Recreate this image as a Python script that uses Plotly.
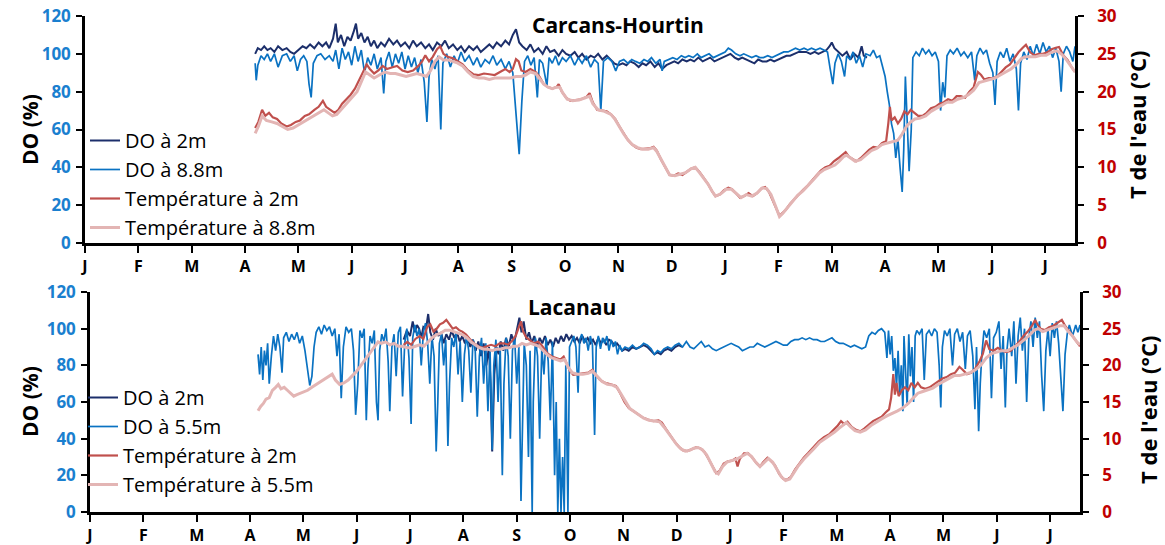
import plotly.graph_objects as go

# ---------------- DATA (time in months since Jan 1 of year 1) ----------------
month_labels = ["J", "F", "M", "A", "M", "J", "J", "A", "S", "O", "N", "D",
                "J", "F", "M", "A", "M", "J", "J"]

carcans_do_2m = [
    (3.19,100),(3.24,103),(3.30,102),(3.36,104),(3.42,102),(3.48,103),(3.55,101),(3.62,104),(3.70,102),
    (3.78,103),(3.85,101),(3.92,100),(4.00,102),(4.08,104),(4.15,103),(4.22,105),(4.30,103),(4.38,106),
    (4.45,104),(4.52,106),(4.58,103),(4.65,108),(4.70,116),(4.74,106),(4.80,110),(4.86,104),(4.92,109),
    (4.98,107),(5.04,112),(5.08,116),(5.12,108),(5.18,111),(5.24,106),(5.30,109),(5.36,104),(5.42,107),
    (5.48,103),(5.55,106),(5.62,104),(5.70,108),(5.78,105),(5.85,107),(5.92,104),(6.00,106),(6.08,103),
    (6.15,107),(6.22,104),(6.30,106),(6.38,103),(6.45,105),(6.52,102),(6.60,106),(6.68,104),(6.75,107),
    (6.82,103),(6.90,105),(6.98,102),(7.05,104),(7.12,101),(7.20,104),(7.28,102),(7.35,104),(7.42,101),
    (7.50,103),(7.58,105),(7.65,103),(7.72,106),(7.80,104),(7.88,107),(7.95,105),(8.02,110),(8.08,113),
    (8.14,106),(8.20,104),(8.28,102),(8.35,105),(8.42,101),(8.50,103),(8.58,100),(8.65,104),(8.72,101),
    (8.80,102),(8.88,99),(8.95,102),(9.02,100),(9.10,99),(9.18,101),(9.25,98),(9.32,100),(9.40,97),
    (9.48,99),(9.55,98),(9.62,100),(9.70,97),(9.78,99),(9.85,97),(9.92,95),(10.00,94),(10.08,95),
    (10.15,94),(10.22,96),(10.30,95),(10.38,93),(10.45,95),(10.52,94),(10.60,96),(10.68,93),(10.75,95),
    (10.82,92),(10.90,94),(10.98,95),(11.05,96),(11.12,95),(11.20,97),(11.28,96),(11.35,97),(11.42,96),
    (11.50,98),(11.58,96),(11.65,97),(11.72,98),(11.80,96),(11.88,97),(11.95,98),(12.02,99),(12.10,100),
    (12.18,98),(12.25,97),(12.32,98),(12.40,97),(12.48,96),(12.55,95),(12.62,97),(12.70,96),(12.78,96),
    (12.85,97),(12.92,96),(13.00,97),(13.08,98),(13.15,99),(13.22,99),(13.30,100),(13.38,101),(13.45,101),
    (13.52,101),(13.60,100),(13.68,101),(13.75,100),(13.82,101),(13.90,102),(13.96,104),(14.00,106),
    (14.05,103),(14.12,101),(14.20,99),(14.28,101),(14.35,97),(14.42,100),(14.50,98),(14.56,104),
    (14.60,99),(14.66,98),
]

carcans_do_88m = [
    (3.19,95),(3.21,86),(3.24,94),(3.30,99),(3.36,97),(3.42,100),(3.48,96),(3.55,100),(3.62,93),(3.70,99),
    (3.78,100),(3.85,96),(3.92,99),(3.98,91),(4.04,97),(4.10,99),(4.16,96),(4.20,84),(4.24,77),(4.28,95),
    (4.35,99),(4.42,100),(4.50,97),(4.58,99),(4.65,96),(4.70,102),(4.76,92),(4.82,103),(4.88,97),(4.94,101),
    (5.00,94),(5.06,104),(5.12,96),(5.18,102),(5.24,90),(5.30,98),(5.36,94),(5.42,100),(5.48,92),(5.55,98),
    (5.60,79),(5.64,96),(5.70,101),(5.76,93),(5.82,100),(5.88,95),(5.94,101),(6.00,92),(6.06,99),(6.12,93),
    (6.18,98),(6.24,90),(6.30,97),(6.36,85),(6.41,64),(6.45,88),(6.50,97),(6.56,92),(6.62,99),(6.67,60),
    (6.71,95),(6.78,100),(6.85,93),(6.92,99),(6.98,95),(7.05,101),(7.12,96),(7.20,99),(7.28,94),(7.35,98),
    (7.42,93),(7.50,97),(7.58,95),(7.65,99),(7.72,94),(7.80,97),(7.88,92),(7.95,96),(8.02,90),(8.08,70),
    (8.14,47),(8.19,75),(8.24,96),(8.30,99),(8.36,94),(8.42,98),(8.48,77),(8.52,97),(8.58,95),(8.66,83),
    (8.70,98),(8.76,95),(8.82,99),(8.88,94),(8.95,98),(9.02,96),(9.10,99),(9.18,94),(9.25,98),(9.32,95),
    (9.40,99),(9.48,93),(9.55,97),(9.62,95),(9.67,70),(9.72,96),(9.80,98),(9.88,96),(9.95,91),(10.02,96),
    (10.10,97),(10.18,95),(10.25,97),(10.32,96),(10.40,95),(10.48,97),(10.55,96),(10.62,98),(10.70,95),
    (10.78,97),(10.82,91),(10.86,96),(10.95,97),(11.02,98),(11.10,97),(11.18,99),(11.25,98),(11.32,99),
    (11.40,98),(11.48,100),(11.55,98),(11.62,99),(11.70,100),(11.78,98),(11.85,99),(11.92,100),(12.00,101),
    (12.06,103),(12.12,102),(12.20,100),(12.28,99),(12.35,100),(12.42,99),(12.50,98),(12.58,99),(12.65,98),
    (12.72,98),(12.80,99),(12.88,98),(12.95,99),(13.02,100),(13.10,101),(13.18,101),(13.25,102),(13.32,103),
    (13.40,102),(13.48,103),(13.55,102),(13.62,103),(13.70,102),(13.78,103),(13.85,102),(13.92,101),
    (13.97,92),(14.02,84),(14.06,95),(14.12,100),(14.18,96),(14.24,88),(14.28,99),(14.34,97),(14.40,101),
    (14.46,95),(14.52,99),(14.58,93),(14.64,100),(14.72,99),(14.78,102),(14.84,98),(14.90,99),(14.96,93),
    (15.00,88),(15.04,80),(15.08,73),(15.12,63),(15.16,58),(15.20,45),(15.24,55),(15.28,40),(15.32,27),
    (15.35,50),(15.38,88),(15.42,60),(15.45,38),(15.49,60),(15.52,98),(15.58,101),(15.64,99),(15.70,103),
    (15.76,100),(15.82,102),(15.88,99),(15.94,101),(16.00,96),(16.04,70),(16.08,85),(16.12,77),(16.16,99),
    (16.22,102),(16.28,100),(16.35,103),(16.42,99),(16.48,101),(16.55,98),(16.62,101),(16.68,86),(16.72,99),
    (16.78,103),(16.84,100),(16.90,102),(16.96,95),(17.02,90),(17.06,73),(17.10,96),(17.16,101),(17.22,98),
    (17.28,103),(17.34,96),(17.40,100),(17.46,92),(17.50,70),(17.54,95),(17.60,101),(17.66,97),(17.72,104),
    (17.78,99),(17.84,105),(17.90,100),(17.96,106),(18.02,101),(18.08,104),(18.14,98),(18.20,103),
    (18.26,96),(18.30,80),(18.34,100),(18.40,104),(18.46,101),(18.52,96),(18.56,104),
]

carcans_t_2m = [
    (3.19,15.2),(3.25,16.0),(3.32,17.6),(3.38,16.8),(3.45,17.2),(3.52,16.6),(3.60,16.4),(3.68,15.8),
    (3.78,15.4),(3.86,15.6),(3.95,16.0),(4.03,16.2),(4.12,16.8),(4.20,17.0),(4.30,17.6),(4.38,18.0),
    (4.46,18.8),(4.52,18.0),(4.60,17.6),(4.68,17.2),(4.75,17.6),(4.82,18.4),(4.90,19.0),(4.98,19.6),
    (5.06,20.4),(5.12,21.2),(5.20,22.4),(5.28,23.6),(5.34,23.0),(5.42,22.4),(5.50,22.8),(5.58,23.4),
    (5.66,23.0),(5.75,23.2),(5.85,23.4),(5.95,22.8),(6.05,22.6),(6.15,22.8),(6.25,23.4),(6.32,24.0),
    (6.38,24.8),(6.45,24.0),(6.52,24.6),(6.60,25.6),(6.66,26.0),(6.72,25.0),(6.80,24.6),(6.90,24.4),
    (6.98,24.0),(7.08,23.6),(7.18,22.8),(7.28,22.3),(7.38,22.2),(7.48,22.4),(7.58,22.3),(7.68,22.2),
    (7.78,22.6),(7.88,23.0),(7.96,22.6),(8.02,23.0),(8.08,24.3),(8.13,24.0),(8.18,22.8),(8.26,22.6),
    (8.35,23.0),(8.45,22.6),(8.52,22.0),(8.60,21.0),(8.68,20.6),(8.76,20.4),(8.84,20.6),(8.88,21.0),
    (8.94,20.0),(9.02,19.2),(9.10,18.8),(9.20,18.9),(9.30,19.0),(9.40,19.3),(9.46,19.8),(9.52,18.6),
    (9.60,17.6),(9.70,17.5),(9.78,17.4),(9.86,17.0),(9.94,16.4),(10.02,15.4),(10.10,14.4),(10.18,13.6),
    (10.26,13.0),(10.34,12.6),(10.42,12.4),(10.50,12.5),(10.58,12.5),(10.66,12.7),(10.72,12.2),(10.80,11.0),
    (10.88,10.0),(10.96,9.0),(11.04,8.9),(11.12,9.2),(11.20,9.0),(11.28,9.4),(11.36,9.8),(11.44,10.0),
    (11.52,9.4),(11.60,8.6),(11.68,7.8),(11.76,6.8),(11.82,6.2),(11.90,6.4),(11.98,7.0),(12.06,7.3),
    (12.13,7.1),(12.20,6.6),(12.28,6.0),(12.36,6.2),(12.44,6.6),(12.52,6.2),(12.60,6.6),(12.68,7.2),
    (12.75,7.4),(12.82,6.8),(12.90,5.6),(12.96,4.6),(13.02,3.6),(13.08,4.0),(13.14,4.4),(13.22,5.2),
    (13.30,5.8),(13.38,6.5),(13.46,7.0),(13.55,7.6),(13.64,8.4),(13.72,9.0),(13.80,9.6),(13.88,10.0),
    (13.96,10.2),(14.04,10.8),(14.12,11.2),(14.20,11.6),(14.26,12.0),(14.32,11.4),(14.40,11.0),(14.46,10.8),
    (14.54,11.2),(14.62,11.8),(14.70,12.3),(14.78,12.7),(14.86,12.6),(14.94,13.2),(15.02,13.5),(15.06,15.8),
    (15.09,18.0),(15.12,16.2),(15.18,16.6),(15.24,15.8),(15.30,16.4),(15.36,17.4),(15.42,17.0),(15.48,17.6),
    (15.55,17.2),(15.62,16.8),(15.70,16.8),(15.78,17.2),(15.86,17.8),(15.94,18.0),(16.02,18.4),(16.10,18.6),
    (16.18,19.0),(16.26,18.8),(16.34,19.4),(16.42,19.4),(16.50,19.2),(16.58,20.0),(16.66,20.6),(16.74,22.6),
    (16.80,22.2),(16.86,21.6),(16.94,21.8),(17.02,21.8),(17.10,22.0),(17.18,22.6),(17.26,23.2),(17.34,23.6),
    (17.42,24.4),(17.50,25.2),(17.58,25.8),(17.64,26.2),(17.72,25.2),(17.80,24.8),(17.88,25.0),(17.96,25.0),
    (18.04,25.2),(18.12,25.6),(18.20,25.8),(18.26,25.9),(18.34,24.8),(18.42,24.2),(18.50,23.2),(18.56,22.6),
]

carcans_t_88m = [
    (3.19,14.5),(3.25,15.4),(3.32,16.8),(3.40,16.2),(3.50,16.0),(3.60,15.8),(3.70,15.4),(3.80,15.0),
    (3.90,15.2),(4.00,15.6),(4.10,16.0),(4.20,16.4),(4.30,16.8),(4.40,17.2),(4.48,17.6),(4.56,17.2),
    (4.64,16.8),(4.72,17.0),(4.80,17.6),(4.90,18.4),(5.00,19.2),(5.10,20.0),(5.18,21.2),(5.26,22.6),
    (5.34,22.2),(5.42,21.8),(5.52,22.2),(5.62,22.6),(5.72,22.4),(5.82,22.4),(5.92,22.2),(6.02,22.0),
    (6.12,22.2),(6.22,22.4),(6.32,22.2),(6.40,22.0),(6.48,22.8),(6.56,24.0),(6.64,24.6),(6.72,24.2),
    (6.80,24.2),(6.90,24.0),(6.98,23.8),(7.08,23.4),(7.18,22.6),(7.28,22.0),(7.38,21.8),(7.48,21.8),
    (7.58,21.6),(7.68,21.8),(7.78,21.8),(7.88,21.8),(7.98,21.8),(8.08,22.0),(8.18,22.0),(8.26,22.2),
    (8.35,22.6),(8.45,22.4),(8.52,21.8),(8.60,21.0),(8.68,20.6),(8.76,20.4),(8.84,20.6),(8.90,20.6),
    (8.96,19.8),(9.04,19.0),(9.14,18.8),(9.26,18.9),(9.38,19.2),(9.46,19.4),(9.52,18.4),(9.62,17.6),
    (9.74,17.4),(9.86,17.0),(9.94,16.3),(10.02,15.3),(10.10,14.4),(10.18,13.6),(10.26,13.0),(10.36,12.6),
    (10.46,12.4),(10.56,12.4),(10.66,12.6),(10.72,12.1),(10.80,11.0),(10.88,10.0),(10.96,9.0),(11.06,8.9),
    (11.16,9.1),(11.26,9.3),(11.36,9.8),(11.44,10.0),(11.52,9.3),(11.60,8.5),(11.68,7.8),(11.76,6.8),
    (11.82,6.2),(11.92,6.5),(12.02,7.1),(12.12,7.1),(12.20,6.6),(12.30,6.0),(12.40,6.4),(12.50,6.2),
    (12.60,6.6),(12.70,7.3),(12.78,7.2),(12.86,6.4),(12.94,5.0),(13.02,3.5),(13.08,3.9),(13.16,4.6),
    (13.26,5.4),(13.36,6.3),(13.46,6.9),(13.56,7.6),(13.66,8.4),(13.76,9.2),(13.86,9.7),(13.96,10.0),
    (14.06,10.3),(14.14,10.8),(14.22,11.4),(14.28,11.6),(14.36,11.2),(14.44,10.8),(14.54,11.0),(14.64,11.6),
    (14.74,12.2),(14.84,12.5),(14.94,13.0),(15.04,13.2),(15.14,13.4),(15.24,13.6),(15.32,14.4),(15.40,15.4),
    (15.48,16.0),(15.56,16.4),(15.66,16.5),(15.76,16.8),(15.86,17.4),(15.96,17.8),(16.06,18.2),(16.16,18.6),
    (16.26,18.6),(16.36,19.0),(16.46,19.2),(16.56,19.6),(16.66,20.2),(16.76,21.2),(16.86,21.4),(16.96,21.6),
    (17.06,21.8),(17.16,22.2),(17.26,22.6),(17.36,23.0),(17.46,23.6),(17.56,24.4),(17.64,24.6),(17.72,24.6),
    (17.82,24.6),(17.92,24.8),(18.02,24.8),(18.12,25.2),(18.22,25.4),(18.30,25.0),(18.38,24.4),(18.46,23.6),
    (18.56,22.6),
]

lacanau_do_2m = [
    (5.88,94),(5.94,99),(6.00,96),(6.05,104),(6.09,98),(6.13,102),(6.17,100),(6.21,95),(6.25,101),
    (6.30,100),(6.34,108),(6.38,98),(6.43,94),(6.48,100),(6.53,96),(6.58,98),(6.63,92),(6.68,97),(6.73,94),
    (6.78,99),(6.83,95),(6.88,98),(6.93,93),(6.98,96),(7.03,92),(7.08,95),(7.13,90),(7.18,94),(7.23,88),
    (7.28,93),(7.33,85),(7.38,92),(7.43,80),(7.48,90),(7.51,70),(7.54,33),(7.58,75),(7.62,90),(7.66,86),
    (7.70,93),(7.75,88),(7.80,95),(7.85,90),(7.90,97),(7.95,92),(8.00,100),(8.05,106),(8.09,98),(8.13,104),
    (8.18,94),(8.23,98),(8.28,92),(8.33,96),(8.38,90),(8.43,95),(8.48,92),(8.53,96),(8.58,91),(8.63,94),
    (8.68,90),(8.73,95),(8.78,92),(8.83,96),(8.88,93),(8.93,97),(8.98,94),(9.03,96),(9.08,93),(9.13,95),
    (9.18,92),(9.23,96),(9.28,93),(9.33,95),(9.38,92),(9.43,94),(9.48,91),(9.53,95),(9.58,92),(9.63,94),
    (9.68,91),(9.73,94),(9.78,93),(9.83,91),(9.88,92),(9.93,90),(9.98,88),(10.03,89),(10.10,88),(10.17,90),
    (10.24,89),(10.31,90),(10.38,91),(10.45,90),(10.52,88),(10.58,86),(10.64,87),(10.70,86),(10.76,88),
    (10.83,89),(10.90,88),(10.97,90),(11.04,91),(11.10,90),
]

lacanau_do_55m = [
    (3.15,86),(3.18,75),(3.21,90),(3.24,72),(3.27,88),(3.30,80),(3.33,92),(3.36,70),(3.40,85),(3.44,96),
    (3.48,88),(3.52,97),(3.56,90),(3.60,76),(3.63,95),(3.68,98),(3.73,93),(3.78,97),(3.83,94),(3.88,98),
    (3.93,92),(3.98,96),(4.03,88),(4.08,78),(4.12,69),(4.16,74),(4.20,90),(4.24,98),(4.29,101),(4.34,97),
    (4.39,102),(4.44,99),(4.49,101),(4.54,96),(4.59,100),(4.63,85),(4.67,97),(4.71,62),(4.75,90),(4.80,101),
    (4.85,98),(4.90,100),(4.94,88),(4.98,53),(5.02,70),(5.06,99),(5.10,95),(5.14,100),(5.18,50),(5.21,78),
    (5.25,96),(5.29,92),(5.33,99),(5.37,60),(5.40,50),(5.43,88),(5.47,97),(5.51,93),(5.55,100),(5.59,82),
    (5.62,55),(5.66,90),(5.70,97),(5.74,74),(5.78,98),(5.82,101),(5.86,63),(5.90,92),(5.94,100),(5.98,84),
    (6.02,48),(6.05,95),(6.09,102),(6.13,96),(6.17,100),(6.21,80),(6.25,98),(6.29,103),(6.33,92),(6.37,70),
    (6.41,96),(6.45,85),(6.49,33),(6.52,60),(6.55,92),(6.59,97),(6.63,80),(6.67,94),(6.71,36),(6.74,70),
    (6.78,95),(6.82,90),(6.86,98),(6.90,75),(6.94,93),(6.98,60),(7.02,86),(7.06,96),(7.10,88),(7.14,65),
    (7.18,94),(7.22,90),(7.26,52),(7.30,85),(7.34,95),(7.38,70),(7.42,92),(7.46,55),(7.50,88),(7.54,34),
    (7.57,80),(7.61,94),(7.65,60),(7.69,90),(7.73,20),(7.76,70),(7.80,95),(7.84,85),(7.88,40),(7.92,88),
    (7.96,96),(8.00,70),(8.04,90),(8.08,6),(8.11,50),(8.14,92),(8.18,80),(8.22,30),(8.25,88),(8.29,0),
    (8.31,60),(8.35,95),(8.39,85),(8.43,40),(8.47,90),(8.51,75),(8.55,95),(8.59,82),(8.63,50),(8.67,93),
    (8.71,20),(8.74,60),(8.77,0),(8.80,40),(8.83,0),(8.86,30),(8.89,0),(8.92,80),(8.96,0),(8.99,90),
    (9.03,93),(9.07,96),(9.11,90),(9.15,65),(9.18,94),(9.22,97),(9.26,92),(9.30,95),(9.34,88),(9.38,96),
    (9.42,91),(9.46,42),(9.49,90),(9.53,96),(9.57,89),(9.61,95),(9.65,92),(9.69,96),(9.73,88),(9.77,94),
    (9.81,90),(9.85,93),(9.89,86),(9.93,91),(9.97,88),(10.03,90),(10.10,89),(10.17,91),(10.24,89),
    (10.31,90),(10.38,92),(10.45,91),(10.52,89),(10.58,86),(10.64,88),(10.70,87),(10.76,89),(10.83,90),
    (10.90,89),(10.97,91),(11.04,92),(11.11,90),(11.18,93),(11.25,90),(11.32,89),(11.39,91),(11.46,93),
    (11.53,90),(11.60,91),(11.67,89),(11.74,88),(11.81,89),(11.88,90),(11.95,91),(12.02,92),(12.09,91),
    (12.16,90),(12.23,88),(12.30,89),(12.37,90),(12.44,90),(12.51,92),(12.58,91),(12.65,90),(12.72,91),
    (12.79,92),(12.86,93),(12.93,92),(13.00,91),(13.07,91),(13.14,93),(13.21,94),(13.28,94),(13.35,95),
    (13.42,94),(13.49,95),(13.56,94),(13.63,94),(13.70,93),(13.77,93),(13.84,94),(13.91,95),(13.98,93),
    (14.05,92),(14.12,92),(14.19,91),(14.26,90),(14.33,91),(14.40,90),(14.47,89),(14.54,90),(14.60,96),
    (14.66,98),(14.72,97),(14.78,99),(14.84,100),(14.90,98),(14.94,84),(14.97,99),(15.00,86),(15.03,96),
    (15.06,77),(15.09,84),(15.12,68),(15.15,88),(15.18,64),(15.21,80),(15.24,55),(15.26,96),(15.29,76),
    (15.32,58),(15.35,97),(15.38,74),(15.41,90),(15.44,60),(15.47,96),(15.50,99),(15.55,97),(15.60,100),
    (15.64,72),(15.68,97),(15.73,99),(15.78,96),(15.83,100),(15.88,98),(15.92,80),(15.95,57),(15.98,90),
    (16.02,99),(16.07,96),(16.12,100),(16.17,80),(16.21,97),(16.26,100),(16.31,93),(16.36,98),(16.41,78),
    (16.45,96),(16.50,99),(16.55,85),(16.59,56),(16.62,90),(16.66,44),(16.69,70),(16.72,86),(16.76,99),
    (16.81,95),(16.86,100),(16.90,62),(16.94,95),(16.99,98),(17.04,104),(17.08,78),(17.12,96),(17.16,57),
    (17.19,88),(17.23,100),(17.28,85),(17.32,104),(17.36,70),(17.40,96),(17.44,106),(17.48,88),(17.52,100),
    (17.56,60),(17.60,95),(17.64,104),(17.68,90),(17.72,106),(17.76,95),(17.80,104),(17.84,75),(17.88,55),
    (17.92,88),(17.96,100),(18.00,85),(18.04,103),(18.08,95),(18.12,104),(18.16,92),(18.20,74),(18.24,55),
    (18.28,86),(18.32,97),(18.36,102),(18.42,96),(18.48,102),(18.52,98),(18.56,102),
]

lacanau_t_2m = [
    (5.88,22.8),(5.95,23.2),(6.02,22.8),(6.10,23.6),(6.18,24.0),(6.25,23.6),(6.32,25.2),(6.38,25.6),
    (6.44,24.6),(6.50,25.0),(6.56,25.6),(6.62,25.8),(6.68,26.2),(6.74,25.6),(6.80,25.0),(6.86,25.2),
    (6.92,24.8),(6.98,24.6),(7.05,24.2),(7.12,23.6),(7.20,23.0),(7.28,22.6),(7.36,22.4),(7.44,22.6),
    (7.52,22.8),(7.60,22.6),(7.68,23.0),(7.76,23.0),(7.84,22.8),(7.92,23.4),(7.98,24.0),(8.04,25.2),
    (8.08,26.0),(8.12,24.6),(8.18,23.8),(8.25,23.4),(8.32,23.0),(8.40,23.2),(8.46,22.8),(8.52,22.2),
    (8.58,21.6),(8.66,21.2),(8.74,21.0),(8.82,20.8),(8.88,21.2),(8.94,20.2),(9.00,19.2),(9.06,18.7),
    (9.14,18.8),(9.24,18.9),(9.34,19.0),(9.42,19.4),(9.48,18.7),(9.56,18.0),(9.66,17.6),(9.76,17.4),
    (9.86,17.2),(9.94,16.2),(10.02,15.0),(10.10,14.2),(10.18,13.8),(10.26,13.4),(10.36,12.9),(10.46,12.6),
    (10.56,12.4),(10.66,12.5),(10.72,12.2),(10.80,11.3),(10.88,10.4),(10.96,9.6),(11.04,8.9),(11.12,8.4),
    (11.20,8.3),(11.28,8.6),(11.36,8.8),(11.44,8.7),(11.52,8.2),(11.60,7.2),(11.68,6.0),(11.74,5.3),
    (11.80,5.6),(11.88,6.6),(11.96,6.9),(12.04,7.0),(12.10,7.3),(12.14,6.2),(12.18,7.2),(12.26,8.0),
    (12.34,8.0),(12.42,7.4),(12.50,6.6),(12.56,6.2),(12.62,6.8),(12.70,7.4),(12.76,7.0),(12.84,6.4),
    (12.92,5.2),(13.00,4.5),(13.07,4.4),(13.14,4.8),(13.22,5.8),(13.30,6.6),(13.38,7.4),(13.46,8.0),
    (13.56,8.8),(13.66,9.6),(13.76,10.2),(13.86,10.6),(13.94,11.2),(14.02,11.8),(14.08,12.4),(14.14,12.0),
    (14.20,12.3),(14.28,11.6),(14.36,11.2),(14.44,11.0),(14.52,11.4),(14.60,11.9),(14.68,12.4),(14.76,12.7),
    (14.84,13.0),(14.92,13.6),(14.98,14.0),(15.02,15.6),(15.06,18.8),(15.09,16.0),(15.12,17.6),(15.16,15.8),
    (15.22,16.6),(15.28,17.0),(15.34,16.6),(15.40,17.6),(15.46,17.0),(15.52,17.6),(15.58,17.0),(15.66,16.8),
    (15.74,17.0),(15.82,17.4),(15.90,17.8),(15.98,18.2),(16.06,18.4),(16.14,18.8),(16.22,19.0),(16.30,19.8),
    (16.36,19.4),(16.44,18.8),(16.52,19.0),(16.60,19.6),(16.68,20.6),(16.74,21.6),(16.80,23.4),(16.86,22.2),
    (16.94,22.0),(17.02,22.4),(17.10,22.0),(17.18,21.8),(17.26,22.0),(17.34,22.6),(17.42,23.2),(17.50,24.0),
    (17.58,24.6),(17.66,25.4),(17.72,26.2),(17.76,25.6),(17.82,25.0),(17.90,24.8),(17.98,25.2),(18.06,25.4),
    (18.14,25.8),(18.22,26.2),(18.28,25.4),(18.36,24.6),(18.44,23.8),(18.50,23.2),(18.56,22.6),
]

lacanau_t_55m = [
    (3.15,13.8),(3.20,14.4),(3.25,14.8),(3.30,15.4),(3.36,15.6),(3.42,16.6),(3.48,17.0),(3.53,17.4),
    (3.58,16.8),(3.64,17.0),(3.70,16.6),(3.76,16.2),(3.82,15.8),(3.88,16.0),(3.94,16.2),(4.00,16.4),
    (4.08,16.6),(4.16,17.0),(4.24,17.4),(4.32,17.8),(4.40,18.2),(4.48,18.6),(4.54,18.8),(4.60,18.0),
    (4.68,17.4),(4.76,17.6),(4.84,18.0),(4.92,18.6),(5.00,19.2),(5.08,20.0),(5.16,20.8),(5.24,21.6),
    (5.32,22.4),(5.40,23.2),(5.46,23.0),(5.54,23.2),(5.62,22.8),(5.70,23.0),(5.78,22.6),(5.86,22.6),
    (5.94,22.4),(6.02,22.4),(6.10,22.6),(6.18,22.8),(6.26,22.6),(6.34,23.2),(6.42,23.8),(6.50,24.2),
    (6.58,24.4),(6.66,24.8),(6.74,24.8),(6.82,24.6),(6.90,24.4),(6.98,24.2),(7.06,23.8),(7.14,23.2),
    (7.22,22.8),(7.30,22.4),(7.38,22.2),(7.46,22.2),(7.54,22.0),(7.62,22.2),(7.70,22.2),(7.78,22.4),
    (7.86,22.4),(7.94,22.6),(8.02,22.6),(8.10,23.0),(8.18,22.8),(8.26,23.0),(8.34,22.8),(8.42,22.6),
    (8.50,22.0),(8.58,21.4),(8.66,21.0),(8.74,20.8),(8.82,20.6),(8.90,20.8),(8.96,19.8),(9.04,19.0),
    (9.14,18.8),(9.24,18.8),(9.34,18.9),(9.42,19.2),(9.50,18.6),(9.60,17.8),(9.70,17.4),(9.80,17.3),
    (9.88,17.0),(9.96,16.0),(10.04,14.9),(10.12,14.1),(10.20,13.7),(10.28,13.3),(10.38,12.8),(10.48,12.5),
    (10.58,12.4),(10.68,12.3),(10.76,11.6),(10.84,10.8),(10.92,10.0),(11.00,9.2),(11.08,8.6),(11.16,8.3),
    (11.24,8.4),(11.32,8.7),(11.40,8.8),(11.48,8.5),(11.56,7.8),(11.64,6.6),(11.72,5.5),(11.78,5.2),
    (11.86,6.2),(11.94,6.8),(12.02,7.0),(12.12,7.2),(12.22,7.6),(12.32,8.0),(12.40,7.6),(12.48,6.8),
    (12.56,6.2),(12.64,6.8),(12.72,7.3),(12.80,6.8),(12.88,5.8),(12.96,4.8),(13.04,4.3),(13.12,4.5),
    (13.20,5.4),(13.28,6.3),(13.38,7.2),(13.48,7.9),(13.58,8.7),(13.68,9.5),(13.78,10.0),(13.88,10.4),
    (13.96,10.9),(14.04,11.4),(14.12,11.8),(14.18,12.2),(14.26,11.6),(14.34,11.1),(14.44,10.9),(14.54,11.2),
    (14.64,11.8),(14.74,12.3),(14.84,12.7),(14.94,13.1),(15.04,13.4),(15.14,13.8),(15.24,14.2),(15.34,14.8),
    (15.44,15.6),(15.52,16.2),(15.60,16.4),(15.70,16.6),(15.80,16.9),(15.90,17.4),(16.00,17.8),(16.10,18.2),
    (16.20,18.6),(16.30,18.6),(16.40,18.8),(16.50,19.0),(16.60,19.4),(16.70,20.0),(16.80,21.0),(16.90,21.6),
    (17.00,21.8),(17.10,22.0),(17.20,22.0),(17.30,22.4),(17.40,22.8),(17.50,23.4),(17.60,24.0),(17.70,24.8),
    (17.78,25.0),(17.86,24.6),(17.94,24.8),(18.02,25.0),(18.10,25.2),(18.18,25.4),(18.26,25.4),(18.34,24.6),
    (18.42,24.0),(18.50,23.2),(18.56,22.8),
]

# ---------------- STYLE ----------------
NAVY = "#1c2f6b"
BLUE = "#0a72c2"
RED = "#c0504d"
PINK = "#e3b5b4"
TICK_BLUE = "#1a7fcf"
TICK_RED = "#c00000"
FONT = "Open Sans"


def split(pairs):
    return [p[0] for p in pairs], [p[1] for p in pairs]


fig = go.Figure()


def add(series, name, color, width, xa, ya, legend, group):
    t, v = split(series)
    fig.add_trace(go.Scatter(
        x=t, y=v, mode="lines", name=name, xaxis=xa, yaxis=ya,
        line=dict(color=color, width=width), legend=legend, legendgroup=group,
        hoverinfo="skip"))


add(carcans_do_2m, "DO à 2m", NAVY, 2.0, "x", "y", "legend", "a1")
add(carcans_do_88m, "DO à 8.8m", BLUE, 1.7, "x", "y", "legend", "a2")
add(carcans_t_2m, "Température à 2m", RED, 2.2, "x", "y2", "legend", "a3")
add(carcans_t_88m, "Température à 8.8m", PINK, 3.0, "x", "y2", "legend", "a4")

add(lacanau_do_2m, "DO à 2m", NAVY, 2.0, "x2", "y3", "legend2", "b1")
add(lacanau_do_55m, "DO à 5.5m", BLUE, 1.7, "x2", "y3", "legend2", "b2")
add(lacanau_t_2m, "Température à 2m", RED, 2.2, "x2", "y4", "legend2", "b3")
add(lacanau_t_55m, "Température à 5.5m", PINK, 3.0, "x2", "y4", "legend2", "b4")

W, H = 1165, 545


def px_x(v):
    return v / W


def px_y(v):
    return 1 - v / H


top_dom = [px_y(243), px_y(16)]
bot_dom = [px_y(512), px_y(292)]

xcommon = dict(
    range=[0, 18.56], tickmode="array", tickvals=list(range(len(month_labels))),
    ticktext=month_labels, showgrid=False, zeroline=False, showline=True,
    linecolor="black", linewidth=2.5, ticks="outside", ticklen=7, tickwidth=2,
    tickcolor="black", ticklabelstandoff=0,
    tickfont=dict(family=FONT, size=16, color="black", weight="bold"),
)
yleft = dict(
    range=[0, 120], dtick=20, showgrid=False, zeroline=False, showline=True,
    linecolor="black", linewidth=2.5, ticks="outside", ticklen=6, tickwidth=2,
    tickcolor="black", ticklabelstandoff=2,
    tickfont=dict(family=FONT, size=17, color=TICK_BLUE, weight="bold"),
)
yright = dict(
    range=[0, 30], dtick=5, showgrid=False, zeroline=False, showline=True,
    linecolor="black", linewidth=2.5, ticks="outside", ticklen=6, tickwidth=2,
    tickcolor="black", side="right", ticklabelstandoff=10,
    tickfont=dict(family=FONT, size=17, color=TICK_RED, weight="bold"),
)

legend_common = dict(
    bgcolor="rgba(0,0,0,0)", font=dict(family=FONT, size=20, color="black"),
    xanchor="left", yanchor="top", tracegroupgap=0, itemwidth=30,
)

ann_font = dict(family=FONT, size=21, color="black")
fig.update_layout(
    width=W, height=H, margin=dict(l=0, r=0, t=0, b=0, autoexpand=False),
    paper_bgcolor="white", plot_bgcolor="white",
    font=dict(family=FONT),
    xaxis=dict(xcommon, domain=[px_x(85), px_x(1075)], anchor="y"),
    yaxis=dict(yleft, domain=top_dom, anchor="x"),
    yaxis2=dict(yright, overlaying="y", anchor="x"),
    xaxis2=dict(xcommon, domain=[px_x(90), px_x(1080)], anchor="y3"),
    yaxis3=dict(yleft, domain=bot_dom, anchor="x2"),
    yaxis4=dict(yright, overlaying="y3", anchor="x2"),
    legend=dict(legend_common, x=px_x(85), y=px_y(121)),
    legend2=dict(legend_common, x=px_x(83), y=px_y(378)),
    showlegend=True,
    annotations=[
        dict(text="<b>Carcans-Hourtin</b>", x=px_x(618), y=px_y(25), xref="paper", yref="paper",
             xanchor="center", yanchor="middle", showarrow=False, font=ann_font),
        dict(text="<b>Lacanau</b>", x=px_x(572), y=px_y(307), xref="paper", yref="paper",
             xanchor="center", yanchor="middle", showarrow=False, font=ann_font),
        dict(text="<b>DO (%)</b>", x=px_x(30), y=px_y(130), xref="paper", yref="paper",
             xanchor="center", yanchor="middle", textangle=-90, showarrow=False, font=ann_font),
        dict(text="<b>DO (%)</b>", x=px_x(30), y=px_y(402), xref="paper", yref="paper",
             xanchor="center", yanchor="middle", textangle=-90, showarrow=False, font=ann_font),
        dict(text="<b>T de l'eau (°C)</b>", x=px_x(1137), y=px_y(125), xref="paper", yref="paper",
             xanchor="center", yanchor="middle", textangle=-90, showarrow=False,
             font=dict(ann_font, size=22)),
        dict(text="<b>T de l'eau (°C)</b>", x=px_x(1148), y=px_y(410), xref="paper", yref="paper",
             xanchor="center", yanchor="middle", textangle=-90, showarrow=False,
             font=dict(ann_font, size=22)),
    ],
)

# remove the default 8 px page margin so the figure fills the 1165x545 window exactly
fig.write_html("out.html", config={"displayModeBar": False},
               post_script="document.body.style.margin='0px';")
